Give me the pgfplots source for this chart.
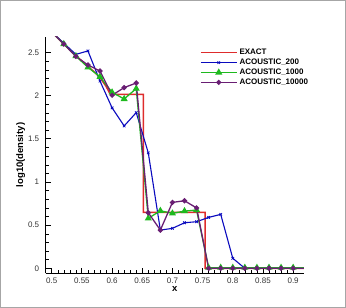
\documentclass[border=0pt]{standalone}
\usepackage{pgfplots}
\pgfplotsset{compat=1.18}
\usepackage{pgfplotstable}
\usepackage{fontspec}
\setmainfont{Liberation Sans}
\definecolor{cexact}{RGB}{222,44,44}
\definecolor{cblue}{RGB}{10,10,190}
\definecolor{cgreen}{RGB}{30,185,30}
\definecolor{cpurple}{RGB}{105,30,115}
\pgfplotstableread{
x y
0.50 2.74
0.52 2.60
0.54 2.465
0.56 2.34
0.57 2.28
0.58 2.21
0.59 2.11
0.597 2.017
0.652 2.017
0.652 0.648
0.754 0.648
0.754 0.0
0.94 0.0
}\exact
\pgfplotstableread{
x a200 a1000 a10000
0.50 2.74 2.74 2.74
0.52 2.61 2.60 2.60
0.54 2.48 2.46 2.457
0.56 2.52 2.33 2.357
0.58 2.17 2.22 2.287
0.60 1.86 2.04 2.006
0.62 1.65 1.963 2.095
0.64 1.805 2.083 2.148
0.66 1.338 0.579 0.644
0.68 0.443 0.667 0.443
0.70 0.463 0.637 0.764
0.72 0.528 0.663 0.783
0.74 0.54 0.675 0.70
0.76 0.59 0.007 0.0
0.78 0.625 0.007 0.0
0.80 0.116 0.007 0.0
0.82 0.0 0.007 0.0
0.84 0.0 0.007 0.0
0.86 0.0 0.007 0.0
0.88 0.0 0.007 0.0
0.90 0.0 0.007 0.0
0.92 0.0 0.007 0.0
0.94 0.0 0.007 0.0
}\acoustic
\begin{document}
\begin{tikzpicture}
\begin{axis}[
  at={(0,0)}, anchor=south west,
  scale only axis, width=258.3pt, height=236.6pt,
  xmin=0.49, xmax=0.918, ymin=-0.058, ymax=2.685,
  axis x line*=bottom, axis y line*=left,
  axis line style={line width=1.3pt, black},
  tick align=inside,
  major tick length=5pt, minor tick length=3pt,
  every tick/.style={black, line width=0.9pt},
  minor tick style={line width=0.5pt},
  xtick={0.5,0.55,...,0.91}, ytick={0,0.5,...,2.6},
  xticklabels={0.5,0.55,0.6,0.65,0.7,0.75,0.8,0.85,0.9},
  yticklabels={0,0.5,1,1.5,2,2.5},
  minor x tick num=4, minor y tick num=4,
  /pgf/number format/assume math mode=true,
  tick label style={font=\fontsize{8}{9}\selectfont, text=black!80},
  yticklabel style={xshift=-3pt},
  xticklabel style={yshift=-1pt},
  xlabel={\textbf{x}}, ylabel={\textbf{log10(density)}},
  label style={font=\fontsize{9.5}{10}\selectfont},
  xlabel style={yshift=4pt},
  ylabel style={yshift=-4pt},
  clip=true,
  legend cell align=left,
  legend style={at={(0.585,0.965)}, anchor=north west, draw=none, fill=none,
    font=\fontsize{8}{9.6}\selectfont\bfseries, row sep=-1.2pt},
  legend image code/.code={\draw[mark repeat=2,mark phase=2,#1] plot coordinates {(0pt,0pt) (18pt,0pt) (36pt,0pt)};},
]
\addplot[cexact, line width=1.5pt, no marks] table[x=x,y=y] {\exact};
\addlegendentry{EXACT}
\addplot[cblue, line width=1.1pt, mark=x, mark size=1.8pt, mark options={line width=0.8pt}] table[x=x,y=a200] {\acoustic};
\addlegendentry{ACOUSTIC\_200}
\addplot[cgreen, line width=1.3pt, mark=triangle*, mark size=2.8pt] table[x=x,y=a1000] {\acoustic};
\addlegendentry{ACOUSTIC\_1000}
\addplot[cpurple, line width=1.3pt, mark=*, mark size=1.9pt] table[x=x,y=a10000] {\acoustic};
\addlegendentry{ACOUSTIC\_10000}
\end{axis}
\draw[black!35, line width=1pt] (-45.2pt,-34.2pt) rectangle (299.8pt,272.8pt);
\end{tikzpicture}
\end{document}
